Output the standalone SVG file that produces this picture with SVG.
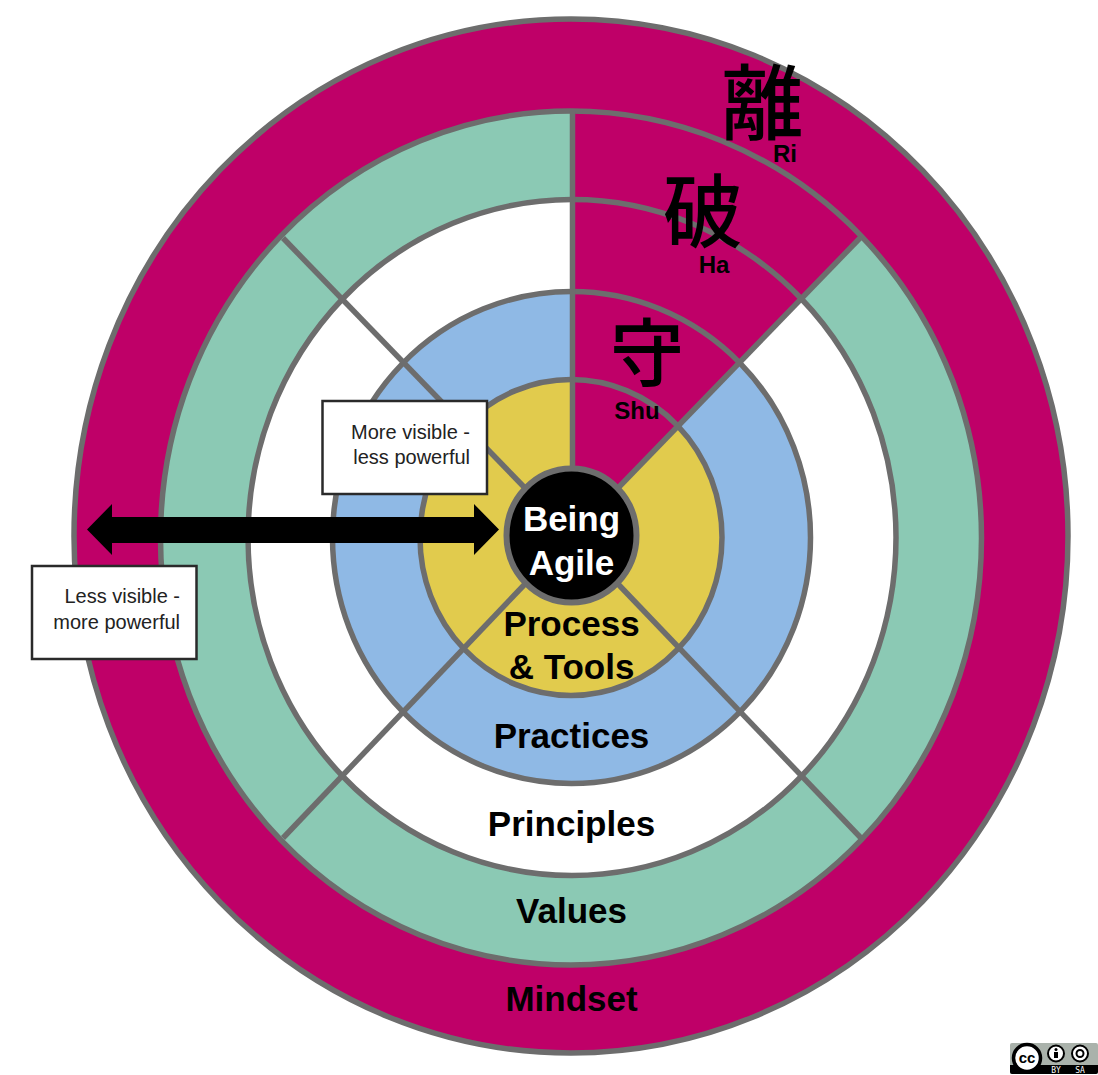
<svg xmlns="http://www.w3.org/2000/svg" width="1098" height="1075" viewBox="0 0 1098 1075">
<style>
.ln{fill:none;stroke:#6d6d6d;stroke-width:5.5}
.lab{font-family:"Liberation Sans",Arial,sans-serif;font-weight:700;font-size:35px;text-anchor:middle;fill:#000}
.sm{font-family:"Liberation Sans",Arial,sans-serif;font-weight:700;font-size:24px;text-anchor:middle;fill:#000}
.kj{font-family:"Noto Sans CJK JP","Noto Sans CJK SC",sans-serif;font-weight:500;text-anchor:middle;fill:#000}
.nt{font-family:"Liberation Sans",Arial,sans-serif;font-size:20px;text-anchor:end;fill:#222}
.box{fill:#fff;stroke:#2a2a2a;stroke-width:2.500}
</style>
<rect width="1098" height="1075" fill="#fff"/>
<g id="mindset"><ellipse cx="571" cy="536" rx="497" ry="517" fill="#bf0068"/></g>
<g id="values"><ellipse cx="571" cy="538" rx="410.500" ry="427" fill="#8bc9b4"/></g>
<g id="principles"><ellipse cx="572" cy="537.500" rx="324" ry="338" fill="#fff"/></g>
<g id="practices"><ellipse cx="571.500" cy="537.500" rx="239" ry="246" fill="#8fb9e5"/></g>
<g id="process-tools"><ellipse cx="571" cy="537.500" rx="151" ry="158" fill="#e1cb4d"/></g>
<path id="shu-ha-ri-sector" d="M572.500,537 L572.500,111 A410.500,427 0 0 1 861.700,236.200 Z" fill="#bf0068"/>
<g id="ring-outlines">
<ellipse class="ln" cx="571" cy="536" rx="497" ry="517"/>
<ellipse class="ln" cx="571" cy="538" rx="410.500" ry="427"/>
<ellipse class="ln" cx="572" cy="537.500" rx="324" ry="338"/>
<ellipse class="ln" cx="571.500" cy="537.500" rx="239" ry="246"/>
<ellipse class="ln" cx="571" cy="537.500" rx="151" ry="158"/>
</g>
<g id="connectors">
<path class="ln" d="M572.500,111V470"/>
<path class="ln" d="M861,237L618,488"/>
<path class="ln" d="M283,238L525,488"/>
<path class="ln" d="M861,838L618,584"/>
<path class="ln" d="M283,838L525,584"/>
</g>
<g id="labels">
<text class="lab" x="571.500" y="636">Process</text>
<text class="lab" x="571.500" y="679">&amp; Tools</text>
<text class="lab" x="571.500" y="748">Practices</text>
<text class="lab" x="571.500" y="836">Principles</text>
<text class="lab" x="571.500" y="923">Values</text>
<text class="lab" x="571.500" y="1011">Mindset</text>
</g>
<g id="ri"><text class="kj" x="762.500" y="133" font-size="82">離</text><text class="sm" x="785" y="162">Ri</text></g>
<g id="ha"><text class="kj" x="703" y="241" font-size="80">破</text><text class="sm" x="714" y="273">Ha</text></g>
<g id="shu"><text class="kj" x="647" y="380" font-size="74">守</text><text class="sm" x="637" y="419">Shu</text></g>
<g id="being-agile">
<ellipse cx="571.500" cy="535.500" rx="65" ry="67" fill="#000" stroke="#6d6d6d" stroke-width="6"/>
<text class="lab" x="571.500" y="531" style="fill:#fff">Being</text>
<text class="lab" x="571.500" y="575" style="fill:#fff">Agile</text>
</g>
<g id="note-more-visible">
<rect class="box" x="322.500" y="401" width="164.500" height="93"/>
<text class="nt" x="470" y="439">More visible -</text>
<text class="nt" x="470" y="464">less powerful</text>
</g>
<g id="note-less-visible">
<rect class="box" x="32" y="566" width="164.500" height="93"/>
<text class="nt" x="180" y="603">Less visible -</text>
<text class="nt" x="180" y="629">more powerful</text>
</g>
<g id="visibility-arrow"><polygon points="87,529.500 112,504 112,517 474,517 474,504 499,529.500 474,555 474,543 112,543 112,555" fill="#000"/></g>
<g id="cc-badge">
<rect x="1010" y="1043" width="88" height="31" rx="2" fill="#aab2ab"/>
<path d="M1010,1065H1098V1072a2,2 0 0 1-2,2H1012a2,2 0 0 1-2-2Z" fill="#000"/>
<circle cx="1027" cy="1058" r="13.500" fill="#fff" stroke="#000" stroke-width="3.500"/>
<text x="1027" y="1063" font-family="Liberation Sans,sans-serif" font-weight="700" font-size="15" text-anchor="middle" fill="#000">cc</text>
<circle cx="1056" cy="1053.500" r="8" fill="#fff" stroke="#000" stroke-width="2"/>
<circle cx="1056" cy="1049.500" r="1.500" fill="#000"/>
<rect x="1054" y="1052" width="4" height="6" fill="#000"/>
<circle cx="1080" cy="1053.500" r="8" fill="#fff" stroke="#000" stroke-width="2"/>
<circle cx="1080" cy="1053.500" r="3.500" fill="none" stroke="#000" stroke-width="2"/>
<text x="1056" y="1072.500" font-family="DejaVu Sans Mono,monospace" font-size="8" text-anchor="middle" fill="#fff">BY</text>
<text x="1080" y="1072.500" font-family="DejaVu Sans Mono,monospace" font-size="8" text-anchor="middle" fill="#fff">SA</text>
</g>
</svg>
